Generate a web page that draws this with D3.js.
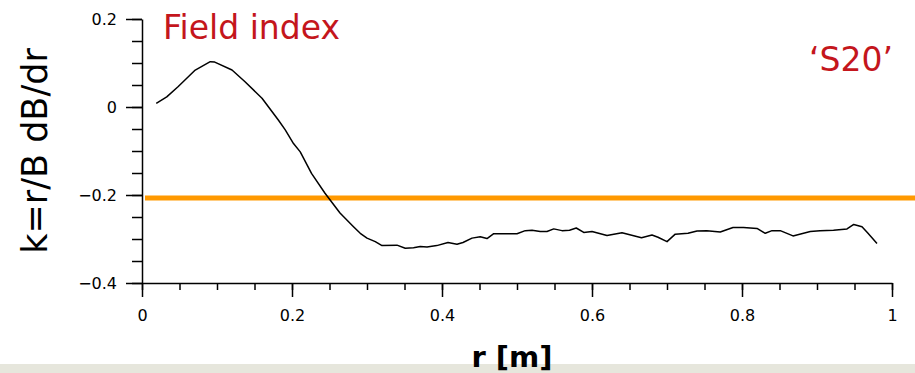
<!DOCTYPE html>
<html>
<head>
<meta charset="utf-8">
<script src="https://cdn.jsdelivr.net/npm/d3@7"></script>
<style>
  body { margin: 0; background: #fff; }
  svg { display: block; font-family: "DejaVu Sans", Verdana, sans-serif; }
</style>
</head>
<body>
<script>
// field index k = r/B dB/dr along radius r [m]
const radius = [0.019,0.033,0.048,0.071,0.091,0.097,0.120,0.137,0.160,0.182,0.191,0.202,0.211,0.226,0.244,0.264,0.282,0.291,0.300,0.311,0.320,0.340,0.351,0.362,0.371,0.380,0.393,0.408,0.420,0.428,0.440,0.451,0.460,0.469,0.500,0.511,0.520,0.531,0.540,0.549,0.560,0.570,0.579,0.589,0.600,0.620,0.640,0.666,0.680,0.688,0.700,0.711,0.728,0.740,0.753,0.771,0.788,0.802,0.820,0.831,0.840,0.851,0.868,0.891,0.904,0.922,0.940,0.949,0.960,0.968,0.980];
const fieldIndex = [0.008,0.023,0.046,0.084,0.103,0.102,0.084,0.058,0.020,-0.030,-0.052,-0.083,-0.102,-0.151,-0.196,-0.241,-0.272,-0.287,-0.298,-0.306,-0.315,-0.314,-0.321,-0.320,-0.317,-0.318,-0.315,-0.308,-0.312,-0.308,-0.298,-0.295,-0.299,-0.288,-0.288,-0.281,-0.280,-0.283,-0.283,-0.277,-0.281,-0.280,-0.275,-0.285,-0.283,-0.292,-0.286,-0.297,-0.291,-0.296,-0.306,-0.289,-0.287,-0.282,-0.281,-0.284,-0.274,-0.274,-0.276,-0.287,-0.281,-0.281,-0.293,-0.283,-0.281,-0.280,-0.277,-0.267,-0.272,-0.287,-0.310];

// horizontal reference level (orange)
const refValue = -0.207;
const refRange = [0.004, 1.031];

const xTicks = [0, 0.2, 0.4, 0.6, 0.8, 1];
const xMinor = d3.range(0, 1.0001, 0.05);
const yTicks = [-0.4, -0.2, 0, 0.2];
const yMinor = d3.range(-0.4, 0.2001, 0.05);

const title = "Field index";
const tag = "\u2018S20\u2019";
const xLabel = "r [m]";
const yLabel = "k=r/B dB/dr";

const width = 915, height = 373;
const margin = {top: 19, right: 23, bottom: 90, left: 142};

const svg = d3.select("body").append("svg")
    .attr("width", width)
    .attr("height", height);

const x = d3.scaleLinear()
    .domain([0, 1])
    .range([margin.left, width - margin.right]);

const y = d3.scaleLinear()
    .domain([-0.4, 0.2])
    .range([height - margin.bottom, margin.top]);

const fmt = d => d === 0 ? "0" : d3.format("~g")(d).replace("-", "\u2212");

// bottom band
svg.append("rect")
    .attr("x", 0).attr("y", 364)
    .attr("width", width).attr("height", height - 364)
    .attr("fill", "#e6e6dc");

// x axis
svg.append("g")
    .attr("transform", `translate(0,${y(-0.4)})`)
    .call(d3.axisBottom(x).tickValues(xMinor).tickSize(7).tickFormat(""))
    .call(g => g.select(".domain").remove())
    .call(g => g.selectAll("line").attr("stroke-width", 1.5));

svg.append("g")
    .attr("transform", `translate(0,${y(-0.4)})`)
    .call(d3.axisBottom(x).tickValues(xTicks).tickSize(14).tickSizeOuter(0).tickPadding(13).tickFormat(fmt))
    .attr("font-size", 16)
    .attr("font-family", "DejaVu Sans")
    .call(g => g.select(".domain").attr("stroke-width", 1.5))
    .call(g => g.selectAll("line").attr("stroke-width", 1.5))
    .call(g => g.selectAll("text").attr("fill", "#000"));

// y axis
svg.append("g")
    .attr("transform", `translate(${x(0)},0)`)
    .call(d3.axisLeft(y).tickValues(yMinor).tickSize(10).tickFormat(""))
    .call(g => g.select(".domain").remove())
    .call(g => g.selectAll("line").attr("stroke-width", 1.5));

svg.append("g")
    .attr("transform", `translate(${x(0)},0)`)
    .call(d3.axisLeft(y).tickValues(yTicks).tickSize(16).tickSizeOuter(0).tickPadding(9).tickFormat(fmt))
    .attr("font-size", 16)
    .attr("font-family", "DejaVu Sans")
    .call(g => g.select(".domain").attr("stroke-width", 1.5))
    .call(g => g.selectAll("line").attr("stroke-width", 1.5))
    .call(g => g.selectAll("text").attr("fill", "#000"));

// reference level
svg.append("line")
    .attr("x1", x(refRange[0])).attr("x2", x(refRange[1]))
    .attr("y1", y(refValue)).attr("y2", y(refValue))
    .attr("stroke", "#ff9900")
    .attr("stroke-width", 5);

// curve
const line = d3.line()
    .x((d, i) => x(radius[i]))
    .y(d => y(d));

svg.append("path")
    .datum(fieldIndex)
    .attr("fill", "none")
    .attr("stroke", "#000")
    .attr("stroke-width", 1.5)
    .attr("stroke-linejoin", "round")
    .attr("d", line);

// texts
svg.append("text")
    .attr("x", 163).attr("y", 39)
    .attr("font-size", 33)
    .attr("fill", "#c4161c")
    .text(title);

svg.append("text")
    .attr("x", 893).attr("y", 71)
    .attr("text-anchor", "end")
    .attr("font-size", 33)
    .attr("fill", "#c4161c")
    .text(tag);

svg.append("text")
    .attr("transform", "translate(47,151) rotate(-90)")
    .attr("text-anchor", "middle")
    .attr("font-size", 35)
    .attr("fill", "#000")
    .text(yLabel);

svg.append("text")
    .attr("x", 512).attr("y", 367)
    .attr("text-anchor", "middle")
    .attr("font-size", 29)
    .attr("font-weight", "bold")
    .attr("fill", "#000")
    .text(xLabel);
</script>
</body>
</html>
